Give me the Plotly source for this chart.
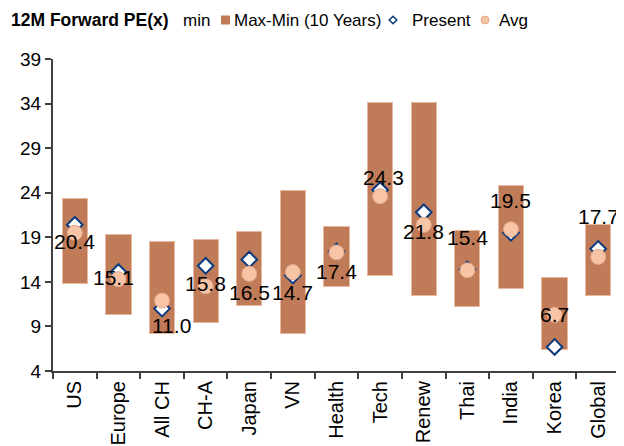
import plotly.graph_objects as go

categories = ["US", "Europe", "All CH", "CH-A", "Japan", "VN", "Health", "Tech",
              "Renew", "Thai", "India", "Korea", "Global"]
max_vals = [23.3, 19.3, 18.5, 18.7, 19.6, 24.3, 20.2, 34.1, 34.1, 19.8, 24.8, 14.5, 20.4]
min_vals = [13.8, 10.3, 8.2, 9.4, 11.4, 8.2, 13.5, 14.7, 12.5, 11.2, 13.2, 6.4, 12.5]
present_vals = [20.4, 15.1, 11.0, 15.8, 16.5, 14.7, 17.4, 24.3, 21.8, 15.4, 19.5, 6.7, 17.7]
avg_vals = [19.5, 14.3, 11.9, 13.5, 14.9, 15.1, 17.3, 23.6, 20.4, 15.3, 19.9, 10.3, 16.8]
y_ticks = [4, 9, 14, 19, 24, 29, 34, 39]

# label placement (pixels; positive = below the point) - styling only
label_dy = [17, 5, 17, 18, 33, 17, 20, -13, 19, -32, -32, -32, -32]
label_dx = [0, -5, 9, 0, 0, 0, 0, 3, 0, 0, 0, 0, 0]

FONT = "Liberation Sans, Arial, sans-serif"
BAR_COLOR = "#C07B58"
DIAMOND_LINE = "#0B3A7E"
AVG_FILL = "#F8C4A6"
AVG_LINE = "#E4A98A"

# page body has an 8px default margin; size the figure to fill the rest
OFF = 8
W, H = 624 - OFF, 446 - OFF
PL, PR, PT, PB = 53, 620, 59, 371          # plot area in window pixels
ML, MR, MT, MB = PL - OFF, 624 - PR, PT - OFF, 446 - PB


def px(x):
    return (x - PL) / (PR - PL)


def py(y):
    return (PB - y) / (PB - PT)


ranges = [mx - mn for mx, mn in zip(max_vals, min_vals)]

fig = go.Figure()
fig.add_trace(go.Bar(
    x=categories, y=min_vals, name="min",
    marker=dict(color="rgba(0,0,0,0)", line=dict(width=0)),
    hoverinfo="skip",
))
fig.add_trace(go.Bar(
    x=categories, y=ranges, name="Max-Min (10 Years)",
    marker=dict(color=BAR_COLOR, line=dict(color="#E8B9A0", width=1)),
))
fig.add_trace(go.Scatter(
    x=categories, y=present_vals, name="Present", mode="markers",
    marker=dict(symbol="diamond", size=12, color="white",
                line=dict(color=DIAMOND_LINE, width=2)),
))
fig.add_trace(go.Scatter(
    x=categories, y=avg_vals, name="Avg", mode="markers",
    marker=dict(symbol="circle", size=15, color=AVG_FILL,
                line=dict(color=AVG_LINE, width=1)),
))

for c, v, dy, dx in zip(categories, present_vals, label_dy, label_dx):
    fig.add_annotation(
        x=c, y=v, text=f"{v:.1f}", showarrow=False,
        yshift=-dy, xshift=dx,
        font=dict(family=FONT, size=21, color="black"),
    )

# title
LEG_Y = py(20)
fig.add_annotation(
    xref="paper", yref="paper", x=px(9), y=LEG_Y,
    xanchor="left", yanchor="middle",
    text="<b>12M Forward PE(x)</b>", showarrow=False,
    font=dict(family=FONT, size=17.5, color="black"),
)

# legend (drawn as text + swatches)
legend_items = [("min", None, 181), ("Max-Min (10 Years)", "rect", 232),
                ("Present", "diamond", 410), ("Avg", "circle", 497)]
for label, sym, tx in legend_items:
    fig.add_annotation(
        xref="paper", yref="paper", x=px(tx), y=LEG_Y,
        xanchor="left", yanchor="middle", text=label, showarrow=False,
        font=dict(family=FONT, size=17, color="black"),
    )
fig.add_shape(type="rect", xref="paper", yref="paper",
              xsizemode="pixel", ysizemode="pixel",
              xanchor=px(225.5), yanchor=LEG_Y, x0=-4.5, x1=4.5, y0=-4.5, y1=4.5,
              fillcolor=BAR_COLOR, line=dict(width=0))
fig.add_shape(type="path", xref="paper", yref="paper",
              xsizemode="pixel", ysizemode="pixel",
              xanchor=px(393), yanchor=LEG_Y,
              path="M -3.8 0 L 0 3.8 L 3.8 0 L 0 -3.8 Z",
              fillcolor="white", line=dict(color=DIAMOND_LINE, width=1.5))
fig.add_shape(type="circle", xref="paper", yref="paper",
              xsizemode="pixel", ysizemode="pixel",
              xanchor=px(485), yanchor=LEG_Y, x0=-4, x1=4, y0=-4, y1=4,
              fillcolor=AVG_FILL, line=dict(color=AVG_LINE, width=1))

fig.update_layout(
    width=W, height=H,
    margin=dict(l=ML, r=MR, t=MT, b=MB),
    paper_bgcolor="white", plot_bgcolor="white",
    barmode="stack", bargap=0.42,
    font=dict(family=FONT, size=17, color="black"),
    showlegend=False,
    xaxis=dict(
        type="category", range=[-0.5, len(categories) - 0.5],
        showline=True, linecolor="#404040", linewidth=2,
        ticks="outside", ticklen=6, tickcolor="#404040", tickwidth=2,
        tickson="boundaries", tickangle=-90, showgrid=False,
        tickfont=dict(family=FONT, size=20, color="black"),
        automargin=False,
    ),
    yaxis=dict(
        range=[4, 39], tickvals=y_ticks, showline=True, linecolor="#404040",
        linewidth=2, ticks="outside", ticklen=6, tickcolor="#404040", tickwidth=2,
        showgrid=False, zeroline=False,
        tickfont=dict(family=FONT, size=19, color="black"),
        automargin=False,
    ),
)

fig.write_html("out.html")
